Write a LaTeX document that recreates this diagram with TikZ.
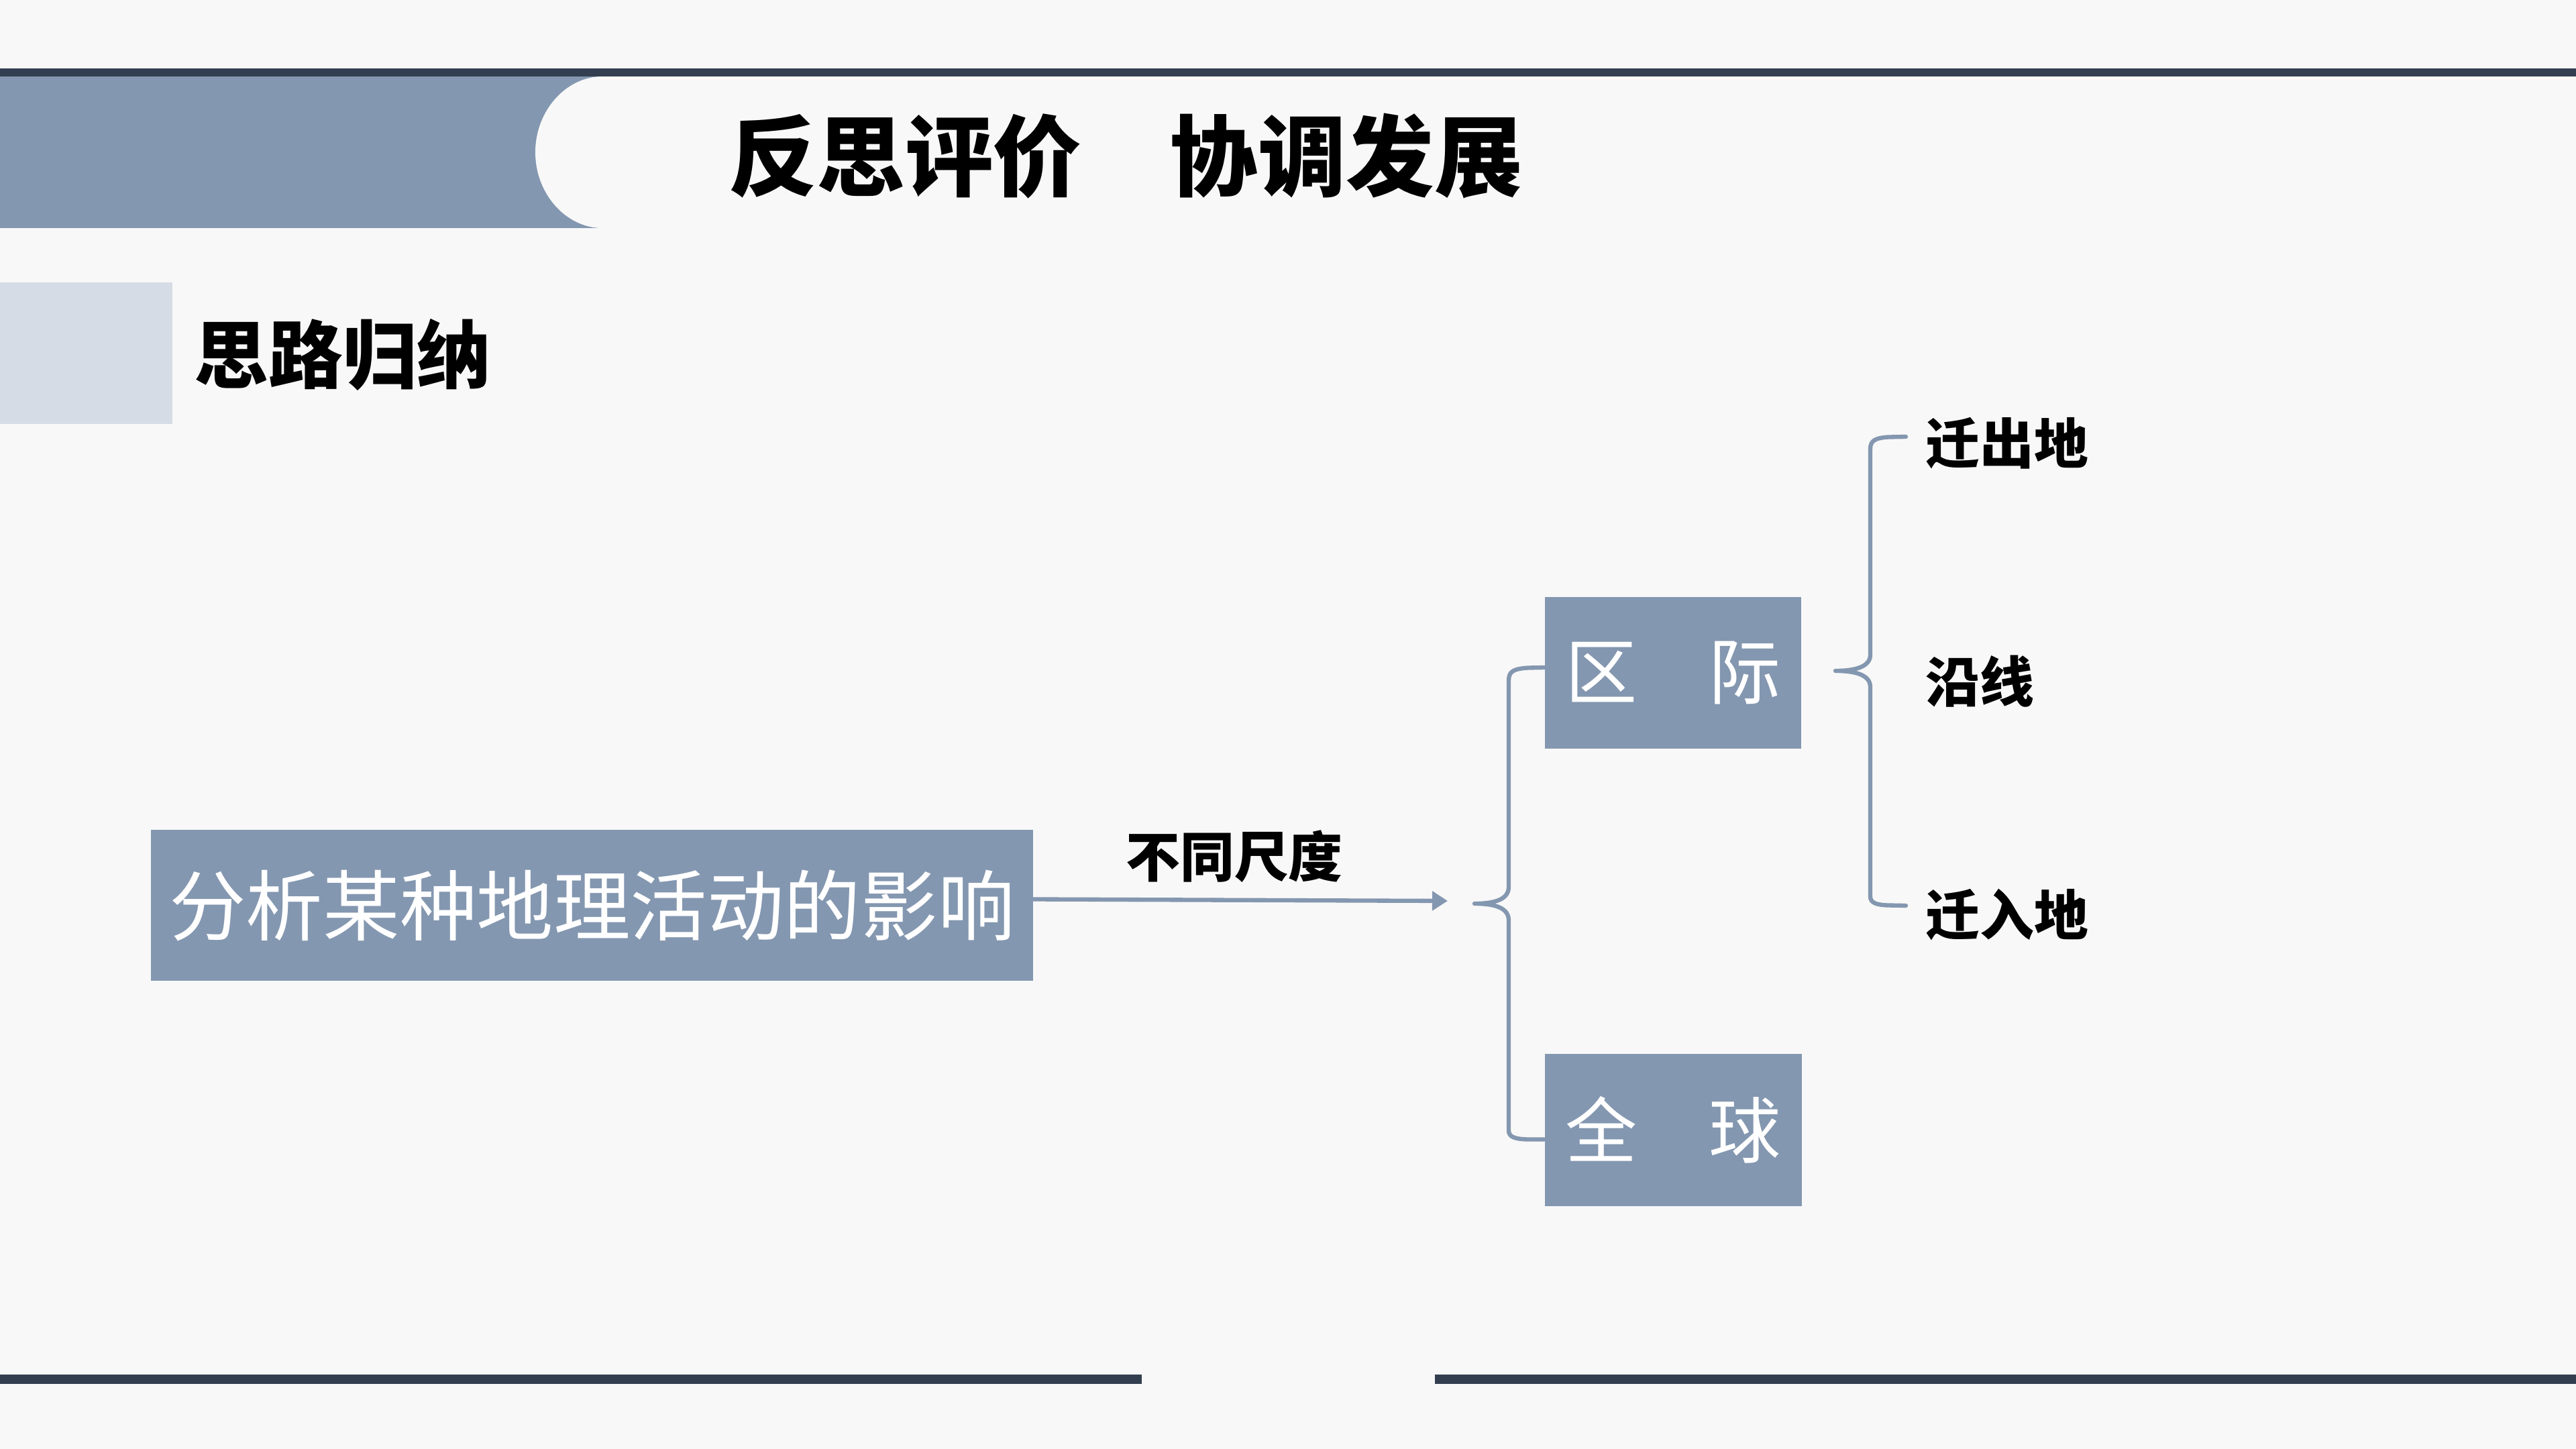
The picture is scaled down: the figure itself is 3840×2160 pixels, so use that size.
\documentclass[tikz,border=0pt]{standalone}
\usepackage{fontspec}
\setmainfont{Noto Sans CJK SC}
\usetikzlibrary{arrows.meta,calc}
\definecolor{bg}{HTML}{F8F8F8}
\definecolor{darkbar}{HTML}{333F50}
\definecolor{steel}{HTML}{8497B0}
\definecolor{pale}{HTML}{D6DCE5}
\begin{document}
\begin{tikzpicture}[x=0.1mm,y=-0.1mm,
  bar/.style={fill=darkbar, draw=none},
  blockbox/.style={fill=steel, draw=none, text=white, inner sep=0pt,
    font=\fontsize{30.5}{34}\selectfont},
  boldlbl/.style={inner sep=0pt, text=black, font=\bfseries\fontsize{23}{26}\selectfont},
  conn/.style={draw=steel, line width=1.8pt, line cap=round, line join=round},
  arr/.style={conn, -{Triangle[length=2.3mm,width=2.8mm]}}]
% canvas
\fill[bg] (0,0) rectangle (3840,2160);
\useasboundingbox (0,0) rectangle (3840,2160);
% header
\fill[bar] (0,102) rectangle (3840,114);
\fill[steel] (0,114) rectangle (905,340);
\fill[bg] (898,114) .. controls (844,114) and (798,165) .. (798,227)
  .. controls (798,289) and (844,340) .. (898,340) -- (3840,340) -- (3840,114) -- cycle;
\node[inner sep=0pt, font=\bfseries\fontsize{37.4}{40}\selectfont] (title) at (1678,233) {反思评价　协调发展};
% section marker
\fill[pale] (0,421) rectangle (257,632);
\node[inner sep=0pt, anchor=west, font=\bfseries\fontsize{31.5}{34}\selectfont] (sec) at (289,529) {思路归纳};
% boxes
\node[blockbox, minimum width=131.5mm, minimum height=22.5mm, font=\fontsize{32.6}{36}\selectfont] (src) at (882.5,1349.5) {分析某种地理活动的影响};
\node[blockbox, minimum width=38.2mm, minimum height=22.6mm] (qj) at (2494,1003) {区　际};
\node[blockbox, minimum width=38.3mm, minimum height=22.7mm] (qq) at (2494,1684.5) {全　球};
% arrow
\coordinate (atip) at (2158,1343);
\draw[arr] ($(src.east)+(0,-9)$) -- (atip);
\node[boldlbl] (scale) at (1840,1277) {不同尺度};
% left brace
\coordinate (lbtip) at (2198,1347);
\draw[conn] ($(qj.west)+(0,-8)$) -- (2278,995.5) .. controls (2254,997) and (2249,1002) .. (2249,1015)
  -- (2249,1322) .. controls (2249,1340) and (2230,1347) .. (lbtip)
  .. controls (2230,1347) and (2249,1354) .. (2249,1372)
  -- (2249,1685) .. controls (2249,1694) and (2256,1698) .. (2278,1698.5) -- ($(qq.west)+(0,14)$);
% right labels
\node[boldlbl, anchor=west] (out) at (2870,661) {迁出地};
\node[boldlbl, anchor=west] (along) at (2870,1016) {沿线};
\node[boldlbl, anchor=west] (in) at (2870,1364) {迁入地};
% right brace
\coordinate (rbtip) at (2736,1000);
\coordinate (rbtop) at (2841,651);
\coordinate (rbbot) at (2841,1350);
\draw[conn] (rbtop) -- (2815,651.5) .. controls (2793,653) and (2788,658) .. (2788,670)
  -- (2788,976) .. controls (2788,993) and (2768,1000) .. (rbtip)
  .. controls (2768,1000) and (2788,1007) .. (2788,1024)
  -- (2788,1336) .. controls (2788,1345) and (2795,1349) .. (2815,1349.5) -- (rbbot);
% footer
\fill[bar] (0,2049) rectangle (1702,2063);
\fill[bar] (2139,2049) rectangle (3840,2063);
\end{tikzpicture}
\end{document}
